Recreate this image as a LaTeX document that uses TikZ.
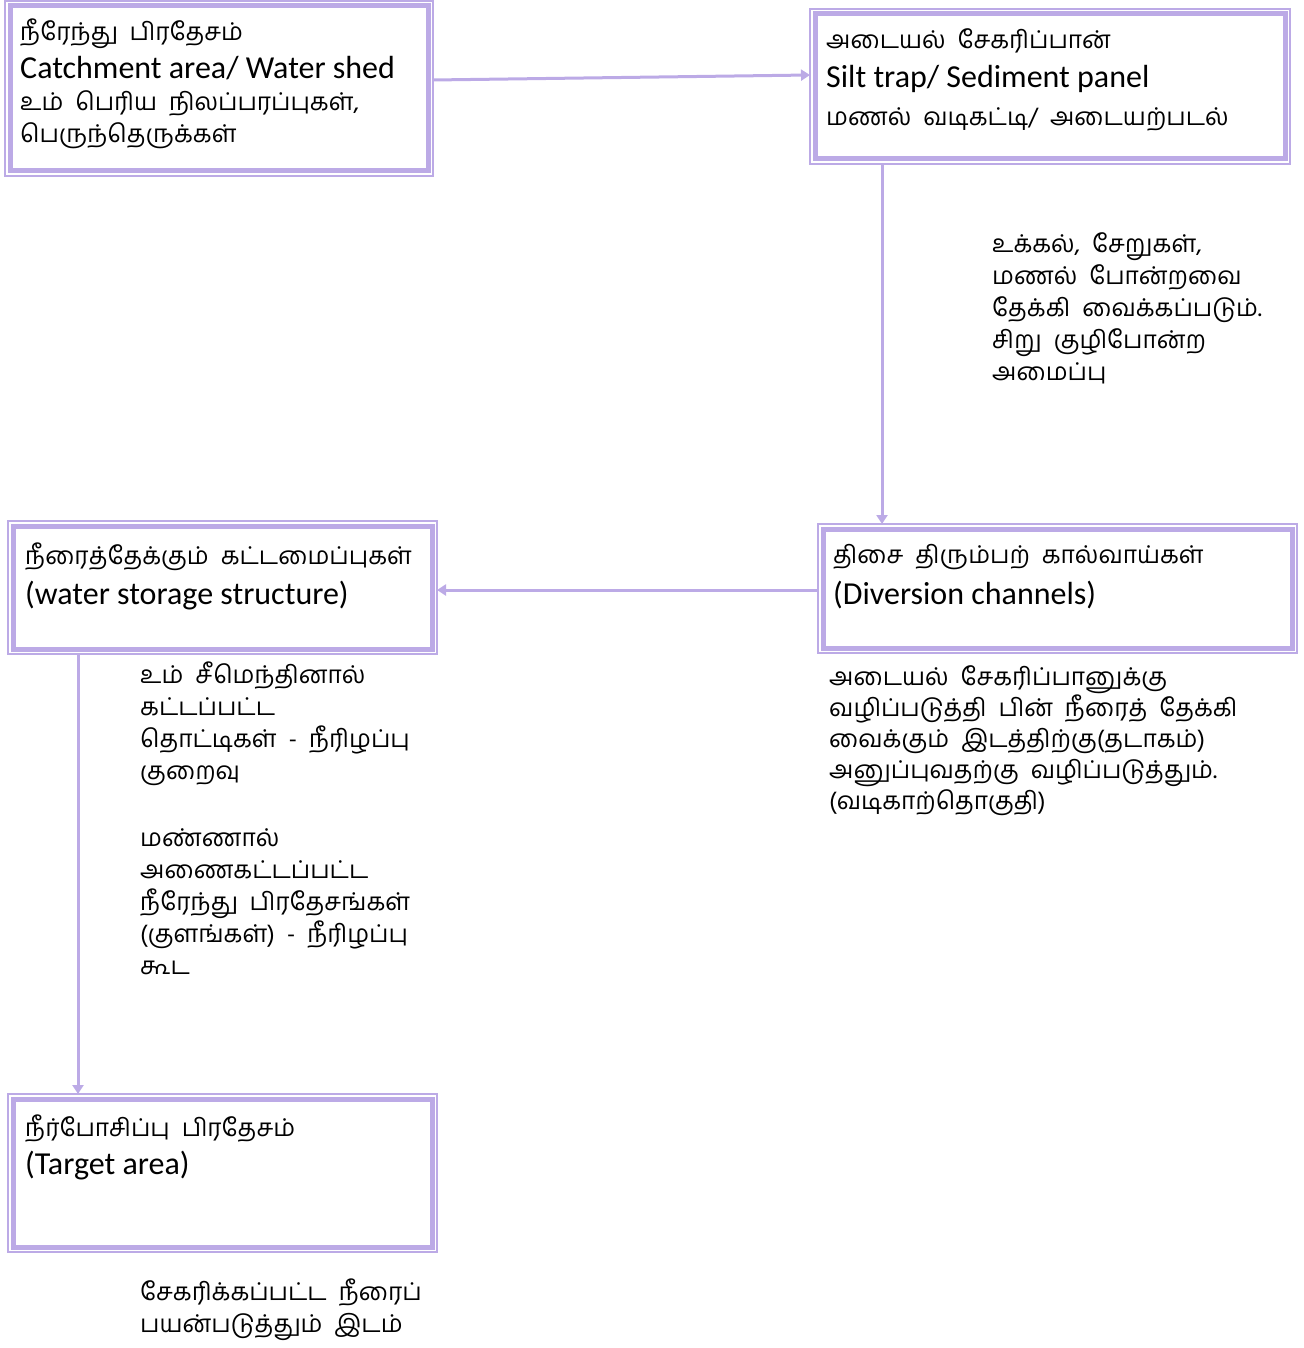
\documentclass[tikz,border=0pt]{standalone}
\usepackage{fontspec}
\setmainfont{Carlito}
\newfontfamily\tamil[Script=Tamil]{Hind Madurai}
\usetikzlibrary{arrows.meta}
\definecolor{lav}{RGB}{188,170,230}
\begin{document}
\begin{tikzpicture}[x=1pt,y=1pt,
box/.style={
% The shape:
rectangle,
inner sep=0pt,
% The border: a thick line inside, a thin one drawn later outside
line width=5pt,
draw=lav,
outer sep=5pt,
anchor=north west
},
boxtext/.style={
% Text in and under the boxes, placed at the baseline of the last line
anchor=base west,
inner sep=0pt,
align=left,
font=\tamil\fontsize{24.5}{32}\selectfont
},
flow/.style={
lav,
line width=3pt,
-{Triangle[width=11pt,length=9pt]}
}]
\useasboundingbox (0,0) rectangle (1303,-1348);
% the five boxes
\node[box, minimum width=418pt, minimum height=165pt] (catch) at (5,-1) {};
\node[box, minimum width=470pt, minimum height=145pt] (silt) at (810,-9) {};
\node[box, minimum width=469pt, minimum height=119pt] (divert) at (818,-524) {};
\node[box, minimum width=419pt, minimum height=123pt] (store) at (8,-521) {};
\node[box, minimum width=419pt, minimum height=148pt] (target) at (8,-1094) {};
\foreach \n in {catch,silt,divert,store,target}
  \draw[lav, line width=1.5pt] (\n.north west) rectangle (\n.south east);
% texts of the boxes
\node[boxtext] (catchtxt) at (20,-143) {நீரேந்து\ \ பிரதேசம்\\[6pt]
{\rmfamily\fontsize{32}{32}\selectfont Catchment area/ Water shed}\\
உம்\ \ பெரிய\ \ நிலப்பரப்புகள்,\\
பெருந்தெருக்கள்};
\node[boxtext] (silttxt) at (826,-126) {அடையல்\ \ சேகரிப்பான்\\[7pt]
{\rmfamily\fontsize{32}{32}\selectfont Silt trap/ Sediment panel}\\[6pt]
மணல்\ \ வடிகட்டி/\ \ அடையற்படல்};
\node[boxtext] (diverttxt) at (833,-604) {திசை\ \ திரும்பற்\ \ கால்வாய்கள்\\[9pt]
{\rmfamily\fontsize{32}{32}\selectfont (Diversion channels)}};
\node[boxtext] (storetxt) at (25,-604) {நீரைத்தேக்கும்\ \ கட்டமைப்புகள்\\[8pt]
{\rmfamily\fontsize{32}{32}\selectfont (water storage structure)}};
\node[boxtext] (targettxt) at (25,-1174) {நீர்போசிப்பு\ \ பிரதேசம்\\[6pt]
{\rmfamily\fontsize{32}{32}\selectfont (Target area)}};
% notes beside the arrows
\node[boxtext] (siltnote) at (992,-380) {உக்கல்,\ \ சேறுகள்,\\
மணல்\ \ போன்றவை\\
தேக்கி\ \ வைக்கப்படும்.\\
சிறு\ \ குழிபோன்ற\\
அமைப்பு};
\node[boxtext, font=\tamil\fontsize{24.5}{31}\selectfont] (divertnote) at (829,-809) {அடையல்\ \ சேகரிப்பானுக்கு\\
வழிப்படுத்தி\ \ பின்\ \ நீரைத்\ \ தேக்கி\\
வைக்கும்\ \ இடத்திற்கு(தடாகம்)\\
அனுப்புவதற்கு\ \ வழிப்படுத்தும்.\\
(வடிகாற்தொகுதி)};
\node[boxtext] (storenote) at (140,-974) {உம்\ \ சீமெந்தினால்\\
கட்டப்பட்ட\\
தொட்டிகள்\ \ -\ \ நீரிழப்பு\\
குறைவு\\[35pt]
மண்ணால்\\
அணைகட்டப்பட்ட\\
நீரேந்து\ \ பிரதேசங்கள்\\
(குளங்கள்)\ \ -\ \ நீரிழப்பு\\
கூட};
\node[boxtext] (targetnote) at (140,-1332) {சேகரிக்கப்பட்ட\ \ நீரைப்\\
பயன்படுத்தும்\ \ இடம்};
% arrows
\draw[flow] ([yshift=8.5pt]catch.east) -- ([yshift=11.5pt]silt.west);
\draw[flow] ([xshift=-168pt]silt.south) -- ([xshift=-168pt]silt.south |- divert.north);
\draw[flow] ([yshift=-1.5pt]divert.west) -- ([yshift=-1.5pt]divert.west -| store.east);
\draw[flow] ([xshift=-144.5pt]store.south) -- ([xshift=-144.5pt]store.south |- target.north);
\end{tikzpicture}
\end{document}
